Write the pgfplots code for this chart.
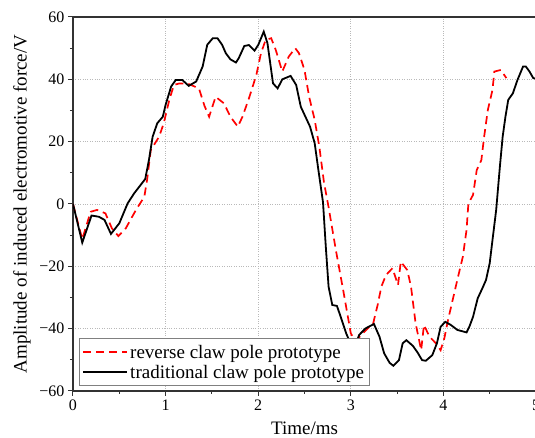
\documentclass[border=0pt]{standalone}
\usepackage{pgfplots}
\pgfplotsset{compat=1.18}
\usepackage{fontspec}
\setmainfont{Liberation Serif}
\usetikzlibrary{calc}
\begin{document}
\begin{tikzpicture}
\begin{axis}[
  name=ax,
  scale only axis,
  width=463pt, height=374pt,
  xmin=0, xmax=5, ymin=-60, ymax=60,
  xtick={0,1,2,3,4,5},
  xticklabels={0,1,2,3,4,5},
  ytick={-60,-40,-20,0,20,40,60},
  yticklabels={−60,−40,−20,0,20,40,60},
  minor x tick num=1, minor y tick num=1,
  tick align=outside,
  xtick pos=bottom, ytick pos=left,
  major tick length=5pt, minor tick length=3pt,
  tick style={black!80, line width=1pt},
  axis line style={black!80, line width=1.2pt},
  grid=major,
  major grid style={dotted, gray!55, line width=0.8pt},
  ticklabel style={font=\fontsize{16}{18}\selectfont},
  /pgf/number format/assume math mode=true,
  xlabel={Time/ms},
  ylabel={Amplitude of induced electromotive force/V},
  label style={font=\fontsize{19}{22}\selectfont},
  xlabel style={at={(axis description cs:0.5,-0.099)}, anchor=center},
  ylabel style={at={(axis description cs:-0.110,0.5)}, anchor=center},
  legend style={at={(axis description cs:0.013,0.013)}, anchor=south west,
    font=\fontsize{19}{21}\selectfont, draw=gray, line width=0.8pt, fill=white,
    inner xsep=3pt, inner ysep=4pt, row sep=1.5pt, cells={anchor=west}},
  legend cell align=left,
  legend image code/.code={\draw[#1] (0pt,0pt) -- (44pt,0pt);},
]
\addplot[red, line width=1.7pt, dash pattern=on 8pt off 5pt] coordinates {
(0,0)(0.10,-11.3)(0.19,-2.5)(0.26,-1.9)(0.35,-3.0)(0.42,-7.8)(0.49,-10.3)(0.57,-7.8)(0.68,-1.9)(0.77,2.3)(0.80,7.7)(0.84,17.3)(0.93,21.6)(0.98,25.9)(1.04,33.4)(1.09,38.2)(1.15,38.7)(1.25,38.5)(1.36,37.1)(1.42,31.5)(1.47,28)(1.54,34.4)(1.63,32.3)(1.70,28.0)(1.78,24.8)(1.83,28.0)(1.90,33.9)(1.98,41.4)(2.03,48.4)(2.08,52.6)(2.14,53.2)(2.19,49.4)(2.26,42.5)(2.33,47.3)(2.40,50)(2.44,48.4)(2.50,43)(2.55,34.4)(2.61,27)(2.66,18.4)(2.71,7)(2.76,-1)(2.84,-15)(2.92,-28)(3.00,-41.5)(3.05,-44)(3.13,-41.5)(3.20,-39.4)(3.24,-38.5)(3.29,-32.4)(3.33,-26.5)(3.38,-22.8)(3.45,-20.6)(3.51,-26)(3.54,-18.5)(3.61,-21.2)(3.65,-26.5)(3.70,-38.3)(3.76,-46.9)(3.79,-38.8)(3.85,-42.6)(3.92,-44.7)(3.97,-46.9)(4.01,-43.1)(4.05,-37.2)(4.10,-30.8)(4.15,-24.4)(4.21,-16.9)(4.25,-8.3)(4.27,0.2)(4.32,2.9)(4.36,10.9)(4.41,14.1)(4.44,21.6)(4.48,30.2)(4.53,36.6)(4.55,42.5)(4.62,43)(4.68,40.4)
};
\addlegendentry{reverse claw pole prototype}
\addplot[black, line width=1.8pt] coordinates {
(0,0)(0.10,-12.4)(0.20,-3.7)(0.28,-4.1)(0.34,-5.1)(0.41,-9.6)(0.50,-6.2)(0.59,0.2)(0.66,3.4)(0.73,6.1)(0.78,8.0)(0.82,14.1)(0.86,21.6)(0.91,25.9)(0.97,28.0)(1.00,31.8)(1.06,37.7)(1.11,39.8)(1.18,39.8)(1.25,37.9)(1.33,39.3)(1.40,44.1)(1.45,51.1)(1.51,53.2)(1.56,53.2)(1.61,51.1)(1.65,48.4)(1.70,46.4)(1.76,45.4)(1.79,46.8)(1.85,50.7)(1.90,51.0)(1.96,49.2)(2.00,51)(2.06,55.3)(2.10,51.6)(2.16,38.7)(2.21,37.1)(2.26,40.0)(2.35,41.1)(2.41,38.2)(2.46,31.2)(2.51,28.0)(2.56,24.8)(2.61,19.5)(2.65,10.9)(2.70,0.5)(2.73,-13.7)(2.76,-26.5)(2.80,-32.4)(2.85,-32.7)(2.89,-36.1)(2.95,-41.5)(3.03,-47)(3.09,-42)(3.16,-39.9)(3.25,-38.5)(3.31,-42.6)(3.36,-47.9)(3.42,-51)(3.46,-51.9)(3.52,-50.1)(3.56,-44.7)(3.60,-43.7)(3.67,-45.5)(3.72,-47.6)(3.77,-50.1)(3.81,-50.3)(3.88,-48.5)(3.93,-44.7)(3.97,-39.4)(4.02,-37.8)(4.08,-38.8)(4.15,-40.4)(4.25,-41.2)(4.28,-39.4)(4.32,-36.2)(4.37,-30.3)(4.42,-27.1)(4.46,-24.4)(4.50,-19.0)(4.53,-11.6)(4.57,-1.9)(4.61,12.0)(4.64,21.6)(4.67,28.0)(4.70,33.4)(4.75,35.5)(4.80,39.8)(4.86,44.1)(4.89,44.1)(4.93,42.5)(4.97,40.4)(5.0,40.2)
};
\addlegendentry{traditional claw pole prototype}
\end{axis}
\pgfresetboundingbox
\path[use as bounding box] ($(ax.south west)+(-73pt,-47pt)$) rectangle ($(ax.north east)+(-1pt,17pt)$);
\end{tikzpicture}
\end{document}
